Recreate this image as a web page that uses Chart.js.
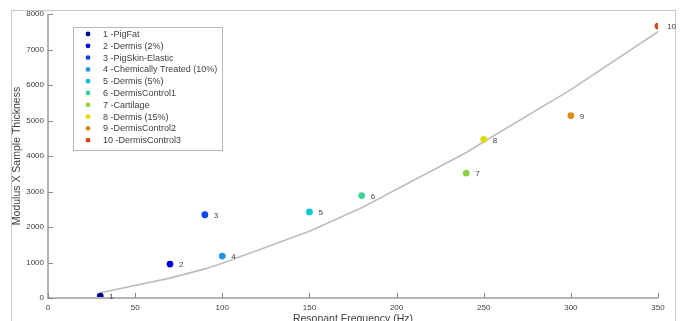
<!DOCTYPE html>
<html>
<head>
<meta charset="utf-8">
<script src="https://cdn.jsdelivr.net/npm/chart.js@4/dist/chart.umd.min.js"></script>
<style>
  html, body { margin: 0; padding: 0; background: #fff; }
  #wrap { width: 681px; height: 321px; position: relative; }
</style>
</head>
<body>
<div id="wrap"><canvas id="c" width="681" height="321"></canvas></div>
<script>
// samples: resonant frequency vs modulus x thickness
const sampleNames = [
    '1 -PigFat', '2 -Dermis (2%)', '3 -PigSkin-Elastic', '4 -Chemically Treated (10%)',
    '5 -Dermis (5%)', '6 -DermisControl1', '7 -Cartilage', '8 -Dermis (15%)',
    '9 -DermisControl2', '10 -DermisControl3'
];
const pointLabels = ['1', '2', '3', '4', '5', '6', '7', '8', '9', '10'];
const freqHz = [30, 70, 90, 100, 150, 180, 240, 250, 300, 350];
const modThick = [55, 955, 2345, 1180, 2425, 2885, 3520, 4470, 5140, 7660];
const sampleColors = [
    '#00008c', '#0000dc', '#0a46f0', '#1e96e6', '#0ac8d2',
    '#3cd296', '#8cd23c', '#dcdc00', '#dc8c14', '#dc4614'
];

// fitted curve, sampled at the same frequencies
const fitX = [30, 70, 90, 100, 150, 180, 240, 250, 300, 350];
const fitY = [150, 560, 820, 980, 1880, 2540, 4100, 4400, 5870, 7500];

const xTicks = [0, 50, 100, 150, 200, 250, 300, 350];
const yTicks = [0, 1000, 2000, 3000, 4000, 5000, 6000, 7000, 8000];

const AXIS_GREY = '#b4b4b4';
const TEXT_GREY = '#404040';
const FONT = 'Arial, "Liberation Sans", sans-serif';

const datasets = [];
datasets.push({
    label: 'fit',
    type: 'line',
    data: fitX.map(function (x, i) { return { x: x, y: fitY[i] }; }),
    borderColor: '#bdbdbd',
    borderWidth: 1.6,
    pointRadius: 0,
    fill: false,
    tension: 0,
    order: 2,
});
for (let i = 0; i < sampleNames.length; i++) {
    datasets.push({
        label: sampleNames[i],
        type: 'scatter',
        data: [{ x: freqHz[i], y: modThick[i] }],
        backgroundColor: sampleColors[i],
        borderColor: sampleColors[i],
        pointRadius: 3.4,
        borderWidth: 0,
        order: 1,
    });
}

// outer frame + inward ticks + point numbers + legend box
const decor = {
    id: 'decor',
    beforeDraw: function (chart) {
        const ctx = chart.ctx;
        ctx.save();
        ctx.fillStyle = '#fff';
        ctx.fillRect(0, 0, chart.width, chart.height);
        ctx.strokeStyle = '#c8c8c8';
        ctx.lineWidth = 1;
        ctx.strokeRect(11.5, 10.5, 664, 330);
        ctx.restore();
    },
    afterDraw: function (chart) {
        const ctx = chart.ctx;
        const xs = chart.scales.x, ys = chart.scales.y;
        const area = chart.chartArea;
        ctx.save();
        // axis lines
        ctx.strokeStyle = AXIS_GREY;
        ctx.lineWidth = 2;
        ctx.beginPath();
        ctx.moveTo(area.left, area.top);
        ctx.lineTo(area.left, area.bottom);
        ctx.lineTo(area.right, area.bottom);
        ctx.stroke();
        ctx.lineWidth = 1;
        ctx.strokeStyle = '#888';
        ctx.beginPath();
        xTicks.forEach(function (v) {
            const px = Math.round(xs.getPixelForValue(v)) + 0.5;
            ctx.moveTo(px, area.bottom);
            ctx.lineTo(px, area.bottom - 5);
        });
        yTicks.forEach(function (v) {
            const py = Math.round(ys.getPixelForValue(v)) + 0.5;
            ctx.moveTo(area.left, py);
            ctx.lineTo(area.left + 5, py);
        });
        ctx.stroke();

        // numbers next to points
        ctx.fillStyle = TEXT_GREY;
        ctx.font = '8px ' + FONT;
        ctx.textBaseline = 'middle';
        ctx.textAlign = 'left';
        for (let i = 0; i < freqHz.length; i++) {
            const px = xs.getPixelForValue(freqHz[i]);
            const py = ys.getPixelForValue(modThick[i]);
            ctx.fillText(pointLabels[i], px + 9, py + 1);
        }

        // legend box
        const bx = 73.5, by = 27.5, bw = 149, bh = 123;
        ctx.fillStyle = '#fff';
        ctx.fillRect(bx, by, bw, bh);
        ctx.strokeStyle = '#b8b8b8';
        ctx.strokeRect(bx, by, bw, bh);
        ctx.font = '9px ' + FONT;
        for (let i = 0; i < sampleNames.length; i++) {
            const ry = 34 + i * 11.8;
            ctx.fillStyle = sampleColors[i];
            ctx.beginPath();
            ctx.arc(88, ry, 2.4, 0, Math.PI * 2);
            ctx.fill();
            ctx.fillStyle = TEXT_GREY;
            ctx.fillText(sampleNames[i], 103, ry + 0.5);
        }
        ctx.restore();
    }
};

new Chart(document.getElementById('c').getContext('2d'), {
    data: { datasets: datasets },
    options: {
        responsive: false,
        animation: false,
        layout: { padding: { left: 0, right: 23, top: 14, bottom: 0 } },
        plugins: {
            legend: { display: false },
            tooltip: { enabled: false },
        },
        scales: {
            x: {
                type: 'linear',
                min: 0, max: 350,
                afterBuildTicks: function (s) { s.ticks = xTicks.map(function (v) { return { value: v }; }); },
                afterFit: function (s) { s.height = 23; },
                grid: { display: false, drawTicks: false },
                border: { display: false },
                ticks: { color: TEXT_GREY, font: { size: 8, family: FONT }, padding: 5, maxRotation: 0,
                         callback: function (v) { return String(v); } },
                title: { display: true, text: 'Resonant Frequency (Hz)', color: TEXT_GREY,
                         font: { size: 10.5, family: FONT }, padding: { top: 0, bottom: -4 } },
            },
            y: {
                type: 'linear',
                min: 0, max: 8000,
                afterBuildTicks: function (s) { s.ticks = yTicks.map(function (v) { return { value: v }; }); },
                afterFit: function (s) { s.width = 48; },
                grid: { display: false, drawTicks: false },
                border: { display: false },
                ticks: { color: TEXT_GREY, font: { size: 8, family: FONT }, padding: 4,
                         callback: function (v) { return String(v); } },
                title: { display: true, text: 'Modulus X Sample Thickness', color: TEXT_GREY,
                         font: { size: 10.5, family: FONT }, padding: { top: 11, bottom: 0 } },
            },
        },
    },
    plugins: [decor],
});
</script>
</body>
</html>
